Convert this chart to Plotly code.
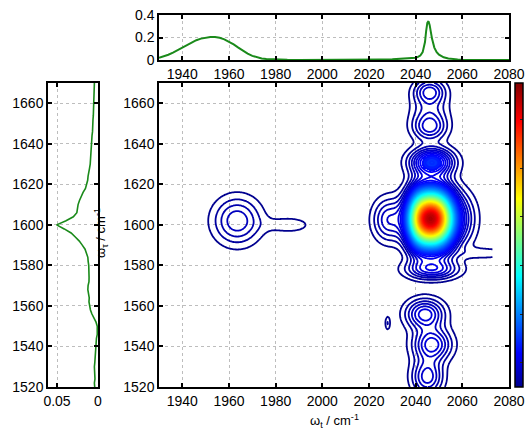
import numpy as np
import plotly.graph_objects as go

# ---------------- data ----------------
# top panel: linear absorption spectrum (omega_t axis)
top_x = [1930, 1932, 1934, 1936, 1938, 1940, 1942, 1944, 1946, 1948, 1950, 1952, 1954, 1956,
         1958, 1960, 1962, 1964, 1966, 1968, 1970, 1972, 1974, 1976, 1978, 1980, 1985, 1990,
         1995, 2000, 2005, 2010, 2015, 2020, 2025, 2030, 2034, 2037, 2039, 2040, 2041, 2042,
         2043, 2044, 2044.5, 2045, 2045.5, 2046, 2046.5, 2047, 2048, 2049, 2050, 2051, 2052,
         2054, 2056, 2058, 2060, 2065, 2070, 2075, 2080]
top_y = [0.020, 0.032, 0.047, 0.066, 0.088, 0.110, 0.134, 0.157, 0.176, 0.190, 0.200, 0.205,
         0.204, 0.197, 0.183, 0.163, 0.138, 0.110, 0.082, 0.057, 0.037, 0.023, 0.014, 0.009,
         0.006, 0.004, 0.002, 0.001, 0.0005, 0.0, 0.0, 0.0, 0.0005, 0.002, 0.004, 0.006, 0.009,
         0.012, 0.016, 0.020, 0.027, 0.040, 0.070, 0.160, 0.260, 0.330, 0.345, 0.310, 0.250,
         0.190, 0.110, 0.070, 0.047, 0.033, 0.024, 0.014, 0.008, 0.005, 0.003, 0.001, 0.0, 0.0, 0.0]

# left panel: linear absorption spectrum (omega_tau axis)
left_y = list(range(1520, 1672, 2))
left_x = [0.0040, 0.0044, 0.0037, 0.0042, 0.0038, 0.0044, 0.0039, 0.0036, 0.0036, 0.0029,
          0.0028, 0.0023, 0.0019, 0.0009, 0.0006, 0.0009, 0.0024, 0.0051, 0.0074, 0.0092,
          0.0100, 0.0110, 0.0107, 0.0117, 0.0124, 0.0121, 0.0110, 0.0109, 0.0108, 0.0114,
          0.0113, 0.0120, 0.0124, 0.0141, 0.0158, 0.0192, 0.0228, 0.0277, 0.0328, 0.0412,
          0.0505, 0.0390, 0.0301, 0.0258, 0.0254, 0.0243, 0.0226, 0.0208, 0.0182, 0.0153,
          0.0139, 0.0126, 0.0121, 0.0109, 0.0103, 0.0095, 0.0093, 0.0087, 0.0086, 0.0079,
          0.0080, 0.0074, 0.0073, 0.0067, 0.0067, 0.0062, 0.0061, 0.0057, 0.0056, 0.0051,
          0.0051, 0.0048, 0.0048, 0.0045, 0.0046, 0.0044]

# 2D spectrum: peak components (data units)
peak_cx  = [2046.5, 2059.0, 2070.0, 1963.5, 1986.0, 2028.3, 2047.0, 2046.0, 2046.0, 2046.0, 2047.0, 2044.0, 2047.0, 2045.0, 2028.0, 2041.0, 2052.0]
peak_cy  = [1603.0, 1603.0, 1586.0, 1602.0, 1600.0, 1602.5, 1631.0, 1648.0, 1666.0, 1657.0, 1578.0, 1556.0, 1541.0, 1525.0, 1551.5, 1603.0, 1603.0]
peak_sx  = [5.6, 5.0, 8.0, 7.0, 7.0, 4.6, 6.0, 5.0, 4.5, 5.5, 7.5, 5.5, 5.5, 4.5, 0.8, 3.0, 3.5]
peak_sy  = [8.8, 9.0, 2.0, 8.0, 3.0, 7.2, 4.5, 4.5, 4.0, 6.0, 3.3, 5.0, 5.5, 6.0, 2.5, 10.0, 10.0]
peak_amp = [0.9, 0.06, 0.025, 0.072, 0.024, 0.072, 0.16, 0.075, 0.075, 0.04, 0.09, 0.10, 0.10, 0.085, 0.03, 0.12, 0.08]
peak_pow = [2, 2, 2, 2, 2, 2, 2, 2, 2, 2, 2, 2, 2, 2, 2, 2, 2]

grid_x = np.arange(1935.0, 2073.01, 0.5)
grid_y = np.arange(1520.0, 1670.01, 0.5)

cbar_vals = [0.08, 0.24, 0.40, 0.56, 0.72, 0.88]
cbar_text = ["1", "2", "3", "4", "5", "6"]

x_ticks = [1940, 1960, 1980, 2000, 2020, 2040, 2060, 2080]
y_ticks = [1520, 1540, 1560, 1580, 1600, 1620, 1640, 1660]

# ---------------- build surface ----------------
XX, YY = np.meshgrid(grid_x, grid_y)
Z = np.zeros_like(XX)
for cx, cy, sx, sy, a, p in zip(peak_cx, peak_cy, peak_sx, peak_sy, peak_amp, peak_pow):
    r2 = ((XX - cx) / sx) ** 2 + ((YY - cy) / sy) ** 2
    Z += a * np.exp(-0.5 * r2 ** (p / 2.0))
Zfill = np.where(Z >= 0.13, Z, np.nan)

jet = [[0.0, 'rgb(0,0,143)'], [0.111, 'rgb(0,0,255)'], [0.365, 'rgb(0,255,255)'],
       [0.619, 'rgb(255,255,0)'], [0.873, 'rgb(255,0,0)'], [1.0, 'rgb(128,0,0)']]

W, H = 527, 431
def px(v): return v / W
def py(v): return 1 - v / H

main_xd = [px(159), px(509)]
main_yd = [py(387), py(83)]
top_yd = [py(60), py(15)]
left_xd = [px(48), px(98)]

FONT = "Liberation Sans, Arial, sans-serif"
GREEN = '#1a8a1a'

fig = go.Figure()

fig.add_trace(go.Heatmap(x=grid_x, y=grid_y, z=Zfill, colorscale=jet, zmin=0, zmax=1,
                         zsmooth=False, hoverinfo='skip', xaxis='x', yaxis='y',
                         showscale=True,
                         colorbar=dict(x=px(515), xanchor='left', xpad=0, ypad=0,
                                       y=py(387), yanchor='bottom', len=304 / H, lenmode='fraction',
                                       thickness=8, thicknessmode='pixels',
                                       outlinecolor='black', outlinewidth=1.5,
                                       tickvals=cbar_vals, ticktext=cbar_text,
                                       ticks='inside', ticklen=3, tickcolor='#222',
                                       tickfont=dict(family=FONT, size=14, color='black'))))

fig.add_trace(go.Contour(x=grid_x, y=grid_y, z=Z, colorscale=jet, zmin=0, zmax=1,
                         autocontour=False,
                         contours=dict(start=0.015, end=1.0, size=0.015, coloring='lines'),
                         line=dict(width=1.8), showscale=False, hoverinfo='skip',
                         xaxis='x', yaxis='y'))

fig.add_trace(go.Scatter(x=top_x, y=top_y, mode='lines', line=dict(color=GREEN, width=2),
                         xaxis='x2', yaxis='y2', hoverinfo='skip'))

fig.add_trace(go.Scatter(x=left_x, y=left_y, mode='lines', line=dict(color=GREEN, width=1.6),
                         xaxis='x3', yaxis='y3', hoverinfo='skip'))

ax = dict(showline=True, linecolor='black', linewidth=1.5, mirror='ticks', ticks='inside',
          ticklen=4, tickcolor='black', tickwidth=1.5, showgrid=True, gridcolor='#bdbdbd',
          griddash='dot', gridwidth=1, zeroline=False, automargin=False,
          tickfont=dict(family=FONT, size=14, color='black'))

fig.update_layout(
    width=W, height=H, margin=dict(l=0, r=0, t=0, b=0, autoexpand=False),
    paper_bgcolor='white', plot_bgcolor='white', showlegend=False,
    xaxis=dict(ax, domain=main_xd, range=[1930, 2080], tickvals=x_ticks, anchor='y'),
    yaxis=dict(ax, domain=main_yd, range=[1520, 1670], tickvals=y_ticks, anchor='x'),
    xaxis2=dict(ax, domain=main_xd, range=[1930, 2080], tickvals=x_ticks, anchor='y2'),
    yaxis2=dict(ax, domain=top_yd, range=[0, 0.4], tickvals=[0, 0.2, 0.4],
                ticktext=['0', '0.2', '0.4'], anchor='x2'),
    xaxis3=dict(ax, domain=left_xd, range=[0.061, 0], tickvals=[0.05, 0],
                ticktext=['0.05', '0'], anchor='y3'),
    yaxis3=dict(ax, domain=main_yd, range=[1520, 1670], tickvals=y_ticks, anchor='x3'),
    annotations=[
        dict(text='ω<sub>t</sub> / cm<sup>-1</sup>', x=px(334), y=py(421), xref='paper',
             yref='paper', showarrow=False, font=dict(family=FONT, size=13, color='black'),
             xanchor='center', yanchor='middle'),
        dict(text='ω<sub>τ</sub> / cm<sup>-1</sup>', x=px(101), y=py(233), xref='paper',
             yref='paper', showarrow=False, textangle=-90,
             font=dict(family=FONT, size=13, color='black'), xanchor='center', yanchor='middle'),
    ],
)

fig.write_html("out.html")
